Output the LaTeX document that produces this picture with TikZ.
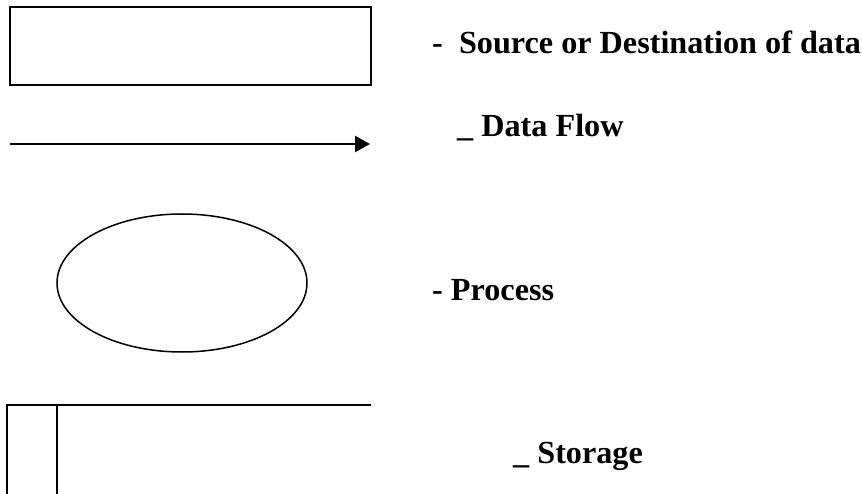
\documentclass[tikz,border=0pt]{standalone}
\usepackage{fontspec}
\setmainfont{Liberation Serif}
\usetikzlibrary{arrows.meta,shapes.geometric}
\begin{document}
\begin{tikzpicture}[x=1pt,y=-1pt,font=\fontsize{32.2}{37}\selectfont\bfseries,
		symbol/.style={draw=black,line width=1.6pt,inner sep=0pt,outer sep=0pt},
		legend/.style={anchor=base west,inner sep=0pt}]
	\useasboundingbox (0,0) rectangle (862,494);

	% source / destination box
	\node[symbol,rectangle,line width=2pt,minimum width=361pt,minimum height=78pt] (src) at (190.5,46) {};
	\node[legend] (srctext) at (432,54) {-\ \ Source or Destination of data};

	% data flow arrow
	\coordinate (flowstart) at (10,144);
	\coordinate (flowend) at (370,144);
	\draw[line width=2.2pt,-{Triangle[length=15pt,width=16pt]}] (flowstart) -> (flowend);
	\node[legend] (flowtext) at (457,137) {\_ Data Flow};

	% process
	\node[symbol,ellipse,line width=1.5pt,minimum width=250pt,minimum height=138pt] (proc) at (182,283) {};
	\node[legend] (proctext) at (432,301) {- Process};

	% storage
	\draw[line width=1.6pt] (371,405) -- (7,405) -- (7,494);
	\draw[line width=1.6pt] (57,405) -- (57,494);
	\node[legend] (storetext) at (513,463) {\_ Storage};
\end{tikzpicture}
\end{document}
